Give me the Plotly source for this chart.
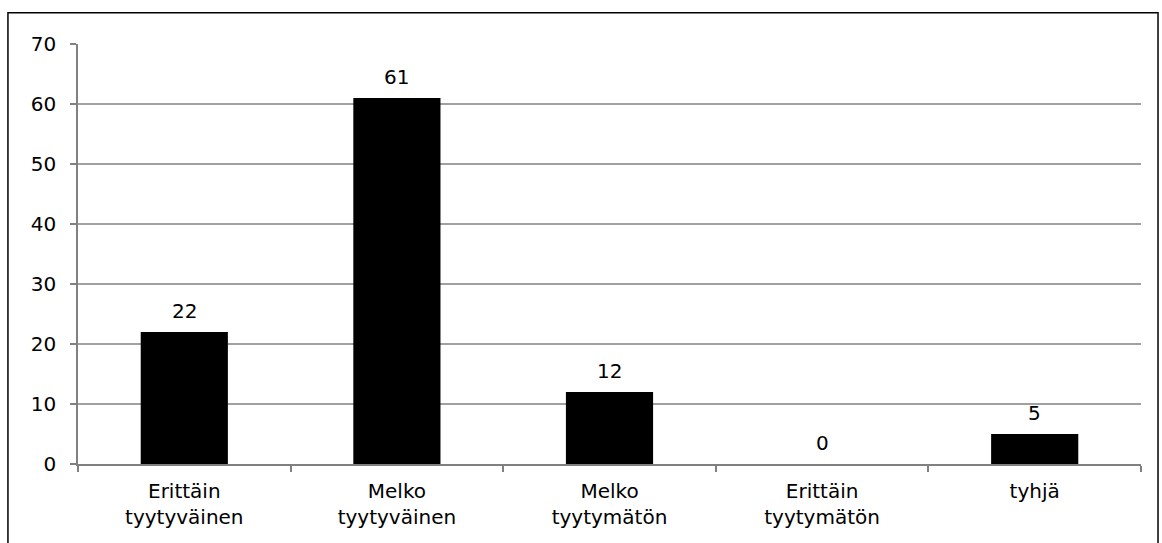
import plotly.graph_objects as go

categories = ["Erittäin<br>tyytyväinen", "Melko<br>tyytyväinen", "Melko<br>tyytymätön",
              "Erittäin<br>tyytymätön", "tyhjä"]
values = [22, 61, 12, 0, 5]
y_ticks = [0, 10, 20, 30, 40, 50, 60, 70]
grid_values = [10, 20, 30, 40, 50, 60]

FONT = dict(family="DejaVu Sans, Liberation Sans, Arial", size=20, color="#000000")
AXIS_GRAY = "#808080"

fig = go.Figure()
fig.add_trace(go.Bar(
    x=categories, y=values,
    marker=dict(color="#000000", line=dict(width=0)),
    width=0.41,
    hoverinfo="skip",
))

# value labels above each bar
for c, v in zip(categories, values):
    fig.add_annotation(x=c, y=v, text=str(v), showarrow=False,
                       yanchor="bottom", yshift=7, font=FONT)

# horizontal gridlines (none at the top of the axis)
for g in grid_values:
    fig.add_shape(type="line", xref="paper", yref="y", x0=0, x1=1, y0=g, y1=g,
                  line=dict(color=AXIS_GRAY, width=1.5), layer="below")

# outer frame around the chart
fig.add_shape(type="rect", xref="paper", yref="paper",
              x0=-0.0659, x1=1.0160, y0=-0.4, y1=1.0745,
              line=dict(color="#000000", width=1.5), fillcolor="rgba(0,0,0,0)")

fig.update_layout(
    width=1162, height=543,
    margin=dict(l=78, r=21, t=44, b=79),
    paper_bgcolor="#ffffff", plot_bgcolor="#ffffff",
    font=FONT,
    showlegend=False,
)
fig.update_xaxes(
    showgrid=False, showline=True, linecolor=AXIS_GRAY, linewidth=1.5,
    ticks="outside", tickson="boundaries", ticklen=6, tickcolor=AXIS_GRAY,
    tickwidth=1.5, tickfont=FONT, ticklabelstandoff=8, fixedrange=True,
)
fig.update_yaxes(
    range=[0, 70], tickvals=y_ticks, showgrid=False, zeroline=False,
    showline=True, linecolor=AXIS_GRAY, linewidth=1.5,
    ticks="outside", ticklen=6, tickcolor=AXIS_GRAY, tickwidth=1.5,
    tickfont=FONT, ticklabelstandoff=10, fixedrange=True,
)

fig.write_html("out.html", config={"displayModeBar": False})
